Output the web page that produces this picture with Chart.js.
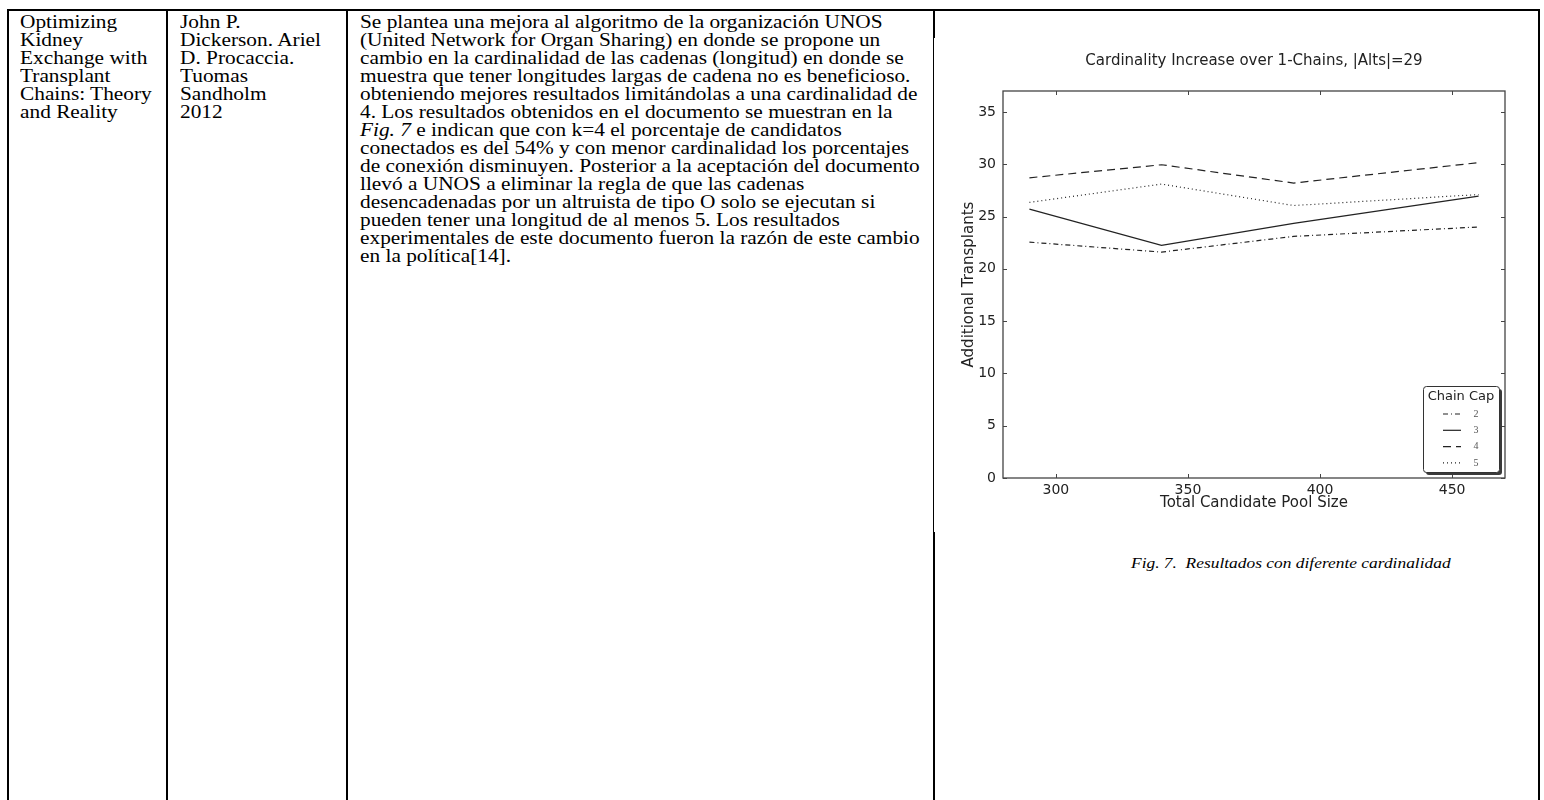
<!DOCTYPE html>
<html>
<head>
<meta charset="utf-8">
<script src="https://cdn.jsdelivr.net/npm/chart.js@4.4.0/dist/chart.umd.min.js"></script>
<style>
  body { margin: 0; background: #fff; width: 1544px; height: 800px; overflow: hidden; position: relative;
         font-family: "Liberation Serif", "Times New Roman", serif; color: #000; }
  .rule { position: absolute; background: #000; }
  .cell { position: absolute; font-size: 18px; line-height: 18px; white-space: nowrap;
          transform-origin: 0 0; transform: scaleX(1.185); }
  #caption { position: absolute; left: 1131px; top: 554px; font-size: 14.5px; line-height: 18px;
             font-style: italic; white-space: nowrap; transform-origin: 0 0; transform: scaleX(1.2); }
  #chartBox { position: absolute; left: 936px; top: 38px; width: 600px; height: 500px; }
</style>
</head>
<body>
<div class="rule" style="left:7px;top:9px;width:1533px;height:2px"></div>
<div class="rule" style="left:7px;top:9px;width:2px;height:791px"></div>
<div class="rule" style="left:166px;top:9px;width:2px;height:791px"></div>
<div class="rule" style="left:346px;top:9px;width:2px;height:791px"></div>
<div class="rule" style="left:933px;top:9px;width:2px;height:29px"></div>
<div class="rule" style="left:933px;top:38px;width:1px;height:494px"></div>
<div class="rule" style="left:933px;top:532px;width:2px;height:268px"></div>
<div class="rule" style="left:1538px;top:9px;width:2px;height:791px"></div>

<div class="cell" style="left:20px;top:13px">Optimizing<br>Kidney<br>Exchange with<br>Transplant<br>Chains: Theory<br>and Reality</div>
<div class="cell" style="left:180px;top:13px">John P.<br>Dickerson. Ariel<br>D. Procaccia.<br>Tuomas<br>Sandholm<br>2012</div>
<div class="cell" style="left:360px;top:13px">Se plantea una mejora al algoritmo de la organización UNOS<br>(United Network for Organ Sharing) en donde se propone un<br>cambio en la cardinalidad de las cadenas (longitud) en donde se<br>muestra que tener longitudes largas de cadena no es beneficioso.<br>obteniendo mejores resultados limitándolas a una cardinalidad de<br>4. Los resultados obtenidos en el documento se muestran en la<br><i>Fig. 7</i> e indican que con k=4 el porcentaje de candidatos<br>conectados es del 54% y con menor cardinalidad los porcentajes<br>de conexión disminuyen. Posterior a la aceptación del documento<br>llevó a UNOS a eliminar la regla de que las cadenas<br>desencadenadas por un altruista de tipo O solo se ejecutan si<br>pueden tener una longitud de al menos 5. Los resultados<br>experimentales de este documento fueron la razón de este cambio<br>en la política[14].</div>

<div id="chartBox"><canvas id="cardinalityChart" width="600" height="500"></canvas></div>
<div id="caption">Fig. 7.&nbsp; Resultados con diferente cardinalidad</div>

<script>
const poolSizes = [290, 340, 390, 460];
const capLabels = ['2', '3', '4', '5'];
const cap2 = [22.55, 21.6, 23.1, 24.0];
const cap3 = [25.7, 22.25, 24.35, 26.95];
const cap4 = [28.7, 29.95, 28.2, 30.15];
const cap5 = [26.35, 28.1, 26.05, 27.1];
const xTicks = [300, 350, 400, 450];
const yTicks = [0, 5, 10, 15, 20, 25, 30, 35];

const capSeries = [cap2, cap3, cap4, cap5];
const capDashes = [[5, 3, 1, 3], [], [8, 5], [1, 3]];
const sans = 'DejaVu Sans';

// matplotlib style frame with inward ticks on all sides
const frameTicks = {
    id: 'frameTicks',
    afterDraw(chart) {
        const { ctx, chartArea: a, scales } = chart;
        ctx.save();
        ctx.strokeStyle = '#444';
        ctx.lineWidth = 1.3;
        ctx.strokeRect(a.left, a.top, a.right - a.left, a.bottom - a.top);
        ctx.lineWidth = 1;
        ctx.beginPath();
        scales.x.ticks.forEach(t => {
            const px = Math.round(scales.x.getPixelForValue(t.value)) + 0.5;
            ctx.moveTo(px, a.bottom); ctx.lineTo(px, a.bottom - 4);
            ctx.moveTo(px, a.top); ctx.lineTo(px, a.top + 4);
        });
        scales.y.ticks.forEach(t => {
            const py = Math.round(scales.y.getPixelForValue(t.value)) + 0.5;
            ctx.moveTo(a.left, py); ctx.lineTo(a.left + 4, py);
            ctx.moveTo(a.right, py); ctx.lineTo(a.right - 4, py);
        });
        ctx.stroke();
        ctx.restore();
    }
};

// legend box drawn inside the plot, lower right
const capLegend = {
    id: 'capLegend',
    afterDraw(chart) {
        const { ctx, chartArea: a } = chart;
        const w = 76, h = 86;
        const x0 = a.right - 6 - w, y0 = a.bottom - 6 - h;
        ctx.save();
        ctx.fillStyle = '#3a3a3a';
        ctx.beginPath(); ctx.roundRect(x0 + 3, y0 + 3, w, h, 3); ctx.fill();
        ctx.fillStyle = '#fff';
        ctx.strokeStyle = '#333';
        ctx.lineWidth = 1;
        ctx.beginPath(); ctx.roundRect(x0 + 0.5, y0 + 0.5, w, h, 3); ctx.fill(); ctx.stroke();

        ctx.fillStyle = '#222';
        ctx.font = '13px "' + sans + '"';
        ctx.textAlign = 'center';
        ctx.textBaseline = 'middle';
        ctx.fillText('Chain Cap', x0 + w / 2, y0 + 11);

        chart.data.datasets.forEach((ds, i) => {
            const ry = y0 + 28 + i * 16.3;
            ctx.strokeStyle = ds.borderColor;
            ctx.lineWidth = ds.borderWidth;
            ctx.setLineDash(ds.borderDash);
            ctx.beginPath(); ctx.moveTo(x0 + 20, ry); ctx.lineTo(x0 + 38, ry); ctx.stroke();
            ctx.setLineDash([]);
            ctx.fillStyle = '#555';
            ctx.font = '10px "Liberation Serif"';
            ctx.fillText(ds.label, x0 + 53, ry);
        });
        ctx.restore();
    }
};

const ctx = document.getElementById('cardinalityChart').getContext('2d');
const cardinalityChart = new Chart(ctx, {
    type: 'line',
    data: {
        datasets: capLabels.map((label, i) => ({
            label: label,
            data: poolSizes.map((x, j) => ({ x: x, y: capSeries[i][j] })),
            borderColor: '#222',
            borderWidth: 1.2,
            borderDash: capDashes[i],
            pointRadius: 0,
            fill: false,
            tension: 0
        }))
    },
    options: {
        responsive: false,
        animation: false,
        devicePixelRatio: 1,
        layout: { padding: { left: 0, right: 31, top: 0, bottom: 0 } },
        plugins: {
            legend: { display: false },
            tooltip: { enabled: false },
            title: {
                display: true,
                fullSize: false,
                text: 'Cardinality Increase over 1-Chains, |Alts|=29',
                color: '#222',
                font: { family: sans, size: 15, weight: 'normal' },
                padding: { top: 14, bottom: 21 }
            }
        },
        scales: {
            x: {
                type: 'linear',
                min: 280,
                max: 470,
                afterBuildTicks: s => { s.ticks = xTicks.map(v => ({ value: v })); },
                afterFit: s => { s.height = 60; },
                grid: { display: false, drawTicks: false, tickLength: 0 },
                border: { display: false },
                ticks: { padding: 4, color: '#222', maxRotation: 0, font: { family: sans, size: 14 } },
                title: {
                    display: true,
                    text: 'Total Candidate Pool Size',
                    color: '#222',
                    font: { family: sans, size: 15 },
                    padding: { top: 0, bottom: 26 }
                }
            },
            y: {
                min: 0,
                max: 37,
                afterBuildTicks: s => { s.ticks = yTicks.map(v => ({ value: v })); },
                afterFit: s => { s.width = 67; },
                grid: { display: false, drawTicks: false, tickLength: 0 },
                border: { display: false },
                ticks: { padding: 7, color: '#222', font: { family: sans, size: 14 } },
                title: {
                    display: true,
                    text: 'Additional Transplants',
                    color: '#222',
                    font: { family: sans, size: 15 },
                    padding: { top: 24, bottom: 0 }
                }
            }
        }
    },
    plugins: [frameTicks, capLegend]
});
</script>
</body>
</html>
